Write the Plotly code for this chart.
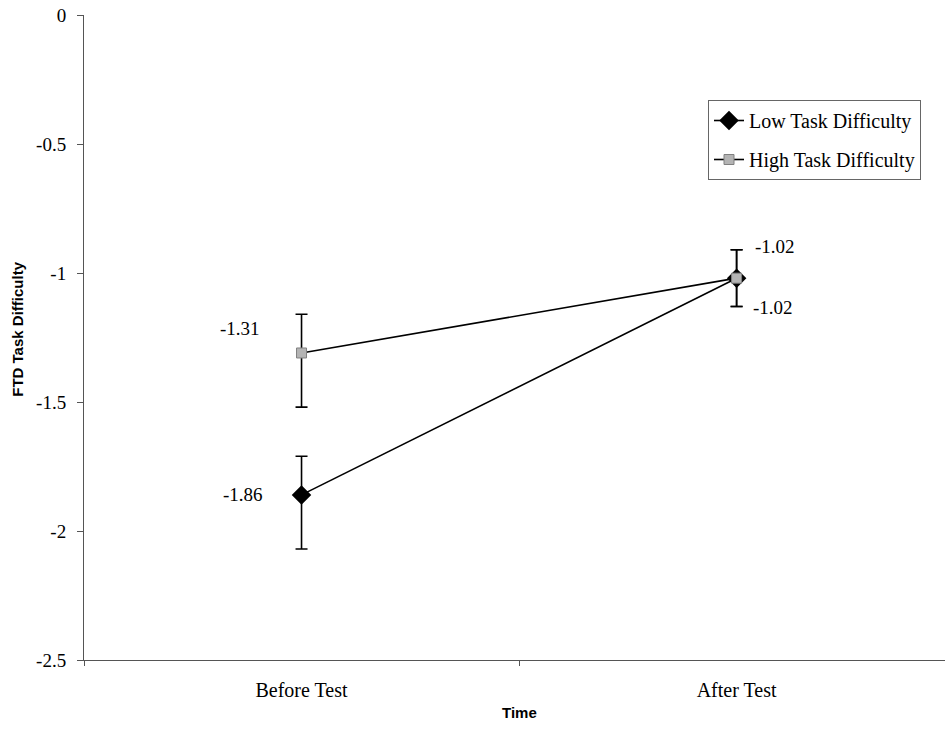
import plotly.graph_objects as go

# Mean FTD task difficulty before and after the test, by task difficulty group
times = ["Before Test", "After Test"]
low_mean = [-1.86, -1.02]
high_mean = [-1.31, -1.02]
low_err_plus = [0.15, 0.11]
low_err_minus = [0.21, 0.11]
high_err_plus = [0.15, 0.11]
high_err_minus = [0.21, 0.11]
series_names = ["Low Task Difficulty", "High Task Difficulty"]
y_ticks = [0, -0.5, -1, -1.5, -2, -2.5]

SERIF = "Liberation Serif, Times New Roman, serif"
SANS = "Liberation Sans, Arial, sans-serif"

fig = go.Figure()

fig.add_trace(go.Scatter(
    x=times, y=low_mean, name=series_names[0], mode="lines+markers",
    legendgroup="low",
    line=dict(color="black", width=1.6),
    marker=dict(symbol="diamond", size=15, color="black"),
    error_y=dict(type="data", symmetric=False, array=low_err_plus,
                 arrayminus=low_err_minus, color="black", thickness=1.6, width=6),
))
fig.add_trace(go.Scatter(
    x=times, y=high_mean, name=series_names[1], mode="lines+markers",
    legendgroup="high",
    line=dict(color="black", width=1.6),
    marker=dict(symbol="square", size=10, color="#b4b4b4",
                line=dict(color="#808080", width=1)),
    error_y=dict(type="data", symmetric=False, array=high_err_plus,
                 arrayminus=high_err_minus, color="black", thickness=1.6, width=6),
))

# Value labels next to each point
label_offsets_low = [(-59, 0), (36, -29)]
label_offsets_high = [(-62, 24), (38, 32)]
for vals, offs in ((low_mean, label_offsets_low), (high_mean, label_offsets_high)):
    for t, v, (dx, dy) in zip(times, vals, offs):
        fig.add_annotation(x=t, y=v, text=f"{v:.2f}", showarrow=False,
                           xshift=dx, yshift=dy,
                           font=dict(family=SERIF, size=19, color="black"))

# X axis title placed under the middle of the category axis
fig.add_annotation(x=0.5, xref="x", y=0, yref="paper", yshift=-52,
                   yanchor="middle", text="<b>Time</b>", showarrow=False,
                   font=dict(family=SANS, size=15, color="black"))

# Y axis title
fig.add_annotation(x=0, xref="paper", xshift=-66, xanchor="center",
                   y=0.512, yref="paper", yanchor="middle",
                   text="<b>FTD Task Difficulty</b>", textangle=-90,
                   showarrow=False,
                   font=dict(family=SANS, size=15, color="black"))

fig.update_layout(
    width=945, height=736,
    margin=dict(l=84, r=0, t=15, b=76),
    paper_bgcolor="white", plot_bgcolor="white",
    showlegend=True,
    legend=dict(x=(708 - 84) / 861, y=(660 - 100) / 645,
                xanchor="left", yanchor="top",
                bordercolor="#666666", borderwidth=1, bgcolor="white",
                font=dict(family=SERIF, size=20, color="black"),
                traceorder="grouped", tracegroupgap=10),
    xaxis=dict(type="category", range=[-0.5, 1.479],
               showline=True, linecolor="#555555", linewidth=1,
               ticks="outside", tickson="boundaries", ticklen=5, tickcolor="#555555",
               ticklabelstandoff=12,
               tickfont=dict(family=SERIF, size=20, color="black"),
               showgrid=False, zeroline=False),
    yaxis=dict(range=[-2.5, 0], tickvals=y_ticks,
               ticktext=[f"{v:g}" for v in y_ticks],
               showline=True, linecolor="#555555", linewidth=1,
               ticks="outside", ticklen=6, tickcolor="#555555",
               ticklabelstandoff=7,
               tickfont=dict(family=SERIF, size=19, color="black"),
               showgrid=False, zeroline=False),
)

fig.write_html("out.html")
